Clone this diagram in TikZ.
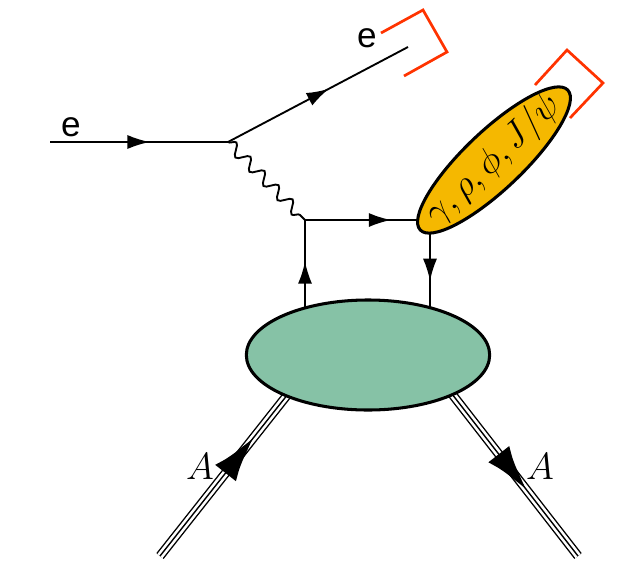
\documentclass[tikz,border=0pt]{standalone}
\usepackage{fontspec}
\newfontfamily\helv{Liberation Sans}
\usetikzlibrary{shapes.geometric,decorations.pathmorphing,decorations.markings,arrows.meta}

\definecolor{blobgreen}{RGB}{134,194,166}
\definecolor{mesonorange}{RGB}{245,184,0}
\definecolor{tagred}{RGB}{255,51,0}

\tikzset{
	fermion/.style={line width=1.6pt, postaction={decorate},
		decoration={markings, mark=at position #1 with {\arrow{Latex[length=19pt,width=12pt]}}}},
	fermion/.default=0.55,
	photon/.style={line width=1.6pt, decorate,
		decoration={snake, segment length=0.6cm, amplitude=0.17cm}},
	nucleus/.style={line width=8pt, postaction={draw, white, line width=5.6pt},
		postaction={draw, black, line width=1.2pt},
		postaction={decorate, black, line width=1pt,
		decoration={markings, mark=at position #1 with {\arrow[black]{Latex[length=19pt,width=12pt]}}}}},
	tag/.style={tagred, line width=2.3pt},
	blobstyle/.style={ellipse, draw, line width=2.6pt}
}

\begin{document}
\begin{tikzpicture}[x=0.03cm, y=-0.03cm]

	\useasboundingbox (0,0) rectangle (640,577);

	\coordinate (ein) at (50,142);
	\coordinate (v1) at (228,142);
	\coordinate (eout) at (408,47);
	\coordinate (v2) at (305,220);
	\coordinate (q1) at (305,312);
	\coordinate (m1) at (428,220);
	\coordinate (m2) at (430,228);
	\coordinate (q2) at (430,312);
	\coordinate (ain) at (160,556);
	\coordinate (b1) at (288,394);
	\coordinate (b2) at (452,394);
	\coordinate (aout) at (578,556);

	\path
	(ein) edge[fermion=0.56] (v1)
	(v1) edge[fermion=0.56] (eout)
	(v1) edge[photon] (v2)
	(v2) edge[fermion=0.7] (m1)
	(q1) edge[fermion=0.55] (v2)
	(m2) edge[fermion=0.63] (q2)
	(ain) edge[nucleus=0.64] (b1)
	(b2) edge[nucleus=0.5] (aout);

	\node (blob) [blobstyle, fill=blobgreen, minimum width=7.3cm, minimum height=3.3cm] at (368,355) {};
	\node (meson) [blobstyle, fill=mesonorange, rotate=43.5, inner sep=0pt, minimum width=6.1cm, minimum height=1.75cm] at (494,160) {};
	\node (meson text) [rotate=43.5] at (meson.center) {\scalebox{1.25}{\Huge$\gamma,\rho,\phi,J/\psi$}};

	\node (ein label) at (71,127) {\helv\fontsize{30}{30}\selectfont e};
	\node (eout label) at (367,38) {\helv\fontsize{30}{30}\selectfont e};
	\node (ain label) at (200,467) {\scalebox{1.3}{\Huge$A$}};
	\node (aout label) at (540,467) {\scalebox{1.3}{\Huge$A$}};

	\draw[tag] (381,33) -- (423,10) -- (447,52) -- (404,76);
	\draw[tag] (535,85) -- (567,50) -- (603,83) -- (570,118);

\end{tikzpicture}
\end{document}
